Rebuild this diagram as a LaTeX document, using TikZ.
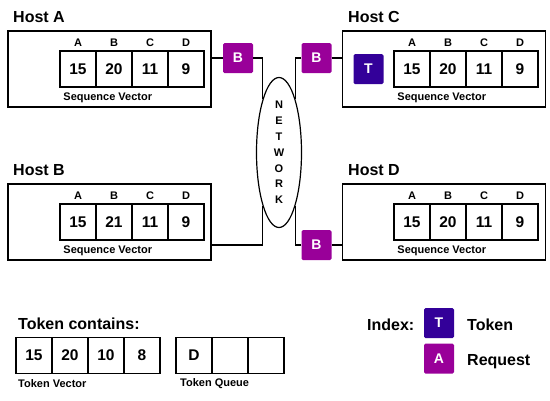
\documentclass[tikz,border=0pt]{standalone}
\usepackage{fontspec}
\setmainfont{Liberation Sans}
\usepackage{tikz}
\usetikzlibrary{shapes,calc,positioning}
\definecolor{reqpurple}{RGB}{153,0,153}
\definecolor{tokblue}{RGB}{51,0,153}

\begin{document}
\begin{tikzpicture}[x=1pt,y=-1pt,
    host/.style={draw,line width=1.5pt,minimum width=203pt,minimum height=76pt,inner sep=0},
    cell/.style={draw,line width=1.5pt,minimum width=36pt,minimum height=36pt,inner sep=0,
      font=\fontsize{15.5}{16}\selectfont\bfseries},
    colhead/.style={font=\fontsize{11}{11}\selectfont\bfseries,inner sep=0},
    caption/.style={font=\fontsize{11}{11}\selectfont\bfseries,inner sep=0,anchor=west},
    title/.style={font=\fontsize{16}{16}\selectfont\bfseries,inner sep=0,anchor=base west},
    req/.style={fill=reqpurple,text=white,minimum size=30pt,inner sep=0,rounded corners=1.5pt,
      font=\fontsize{14}{14}\selectfont\bfseries},
    tok/.style={req,fill=tokblue},
    wire/.style={line width=1.2pt}]
        \useasboundingbox (0,0) rectangle (550,400);
        % Draw hosts
        \node[host] (hA) at (109.5,69) {};
        \node[host] (hC) at (444,69) {};
        \node[host] (hB) at (109.5,222) {};
        \node[host] (hD) at (444,222) {};
        \node[title] (tA) at (13,22) {Host A};
        \node[title] (tC) at (348,22) {Host C};
        \node[title] (tB) at (13,175) {Host B};
        \node[title] (tD) at (348,175) {Host D};
        % Sequence vectors
        \foreach \v [count=\i] in {15,20,11,9}
          \node[cell] (a\i) at ({42+36*\i},69) {\v};
        \foreach \v [count=\i] in {15,21,11,9}
          \node[cell] (b\i) at ({42+36*\i},222) {\v};
        \foreach \v [count=\i] in {15,20,11,9}
          \node[cell] (c\i) at ({376+36*\i},69) {\v};
        \foreach \v [count=\i] in {15,20,11,9}
          \node[cell] (d\i) at ({376+36*\i},222) {\v};
        \foreach \h in {a,b,c,d}{
          \foreach \l [count=\i] in {A,B,C,D}
            \node[colhead] (\h l\i) at ($(\h\i.north)+(0,-8)$) {\l};
          \node[caption] (\h sv) at ($(\h1.south west)+(4,10)$) {Sequence Vector};
        }
        % Network
        \node[draw,ellipse,line width=1.2pt,minimum width=45pt,minimum height=150pt,inner sep=0] (net) at (279,152.5) {};
        \node[font=\fontsize{11}{15.8}\selectfont\bfseries,align=center,inner sep=0] (netlbl) at (net) {N\\E\\T\\W\\O\\R\\K};
        % Requests and token
        \node[req] (rqA) at (238,58) {B};
        \node[req] (rqC) at (316.5,58) {B};
        \node[req] (rqD) at (316.5,245) {B};
        \node[tok] (tkC) at (368.5,69) {T};
        % Connections
        \draw[wire] (rqA.west) -- (rqA.west -| hA.east);
        \draw[wire] (rqA.east) -| (net.north west);
        \draw[wire] (rqC.east) -- (rqC.east -| hC.west);
        \draw[wire] (rqC.west) -| (net.north east);
        \draw[wire] (rqD.east) -- (rqD.east -| hD.west);
        \draw[wire] (rqD.west) -| (net.south east);
        \draw[wire] (hB.east |- rqD) -| (net.south west);
        % Token contents
        \node[title] (tcont) at (18,329) {Token contains:};
        \foreach \v [count=\i] in {15,20,10,8}
          \node[cell] (tv\i) at ({-2+36*\i},355.5) {\v};
        \foreach \v [count=\i] in {D,{},{}}
          \node[cell] (tq\i) at ({158+36*\i},355.5) {\v};
        \node[caption] (tvlbl) at (18,384) {Token Vector};
        \node[caption] (tqlbl) at (180,384) {Token Queue};
        % Index
        \node[title] (idx) at (367,330) {Index:};
        \node[tok] (ixT) at (439,323) {T};
        \node[req] (ixA) at (439,358.5) {A};
        \node[title] (ixTlbl) at (467,330) {Token};
        \node[title] (ixAlbl) at (467,365) {Request};
\end{tikzpicture}
\end{document}
